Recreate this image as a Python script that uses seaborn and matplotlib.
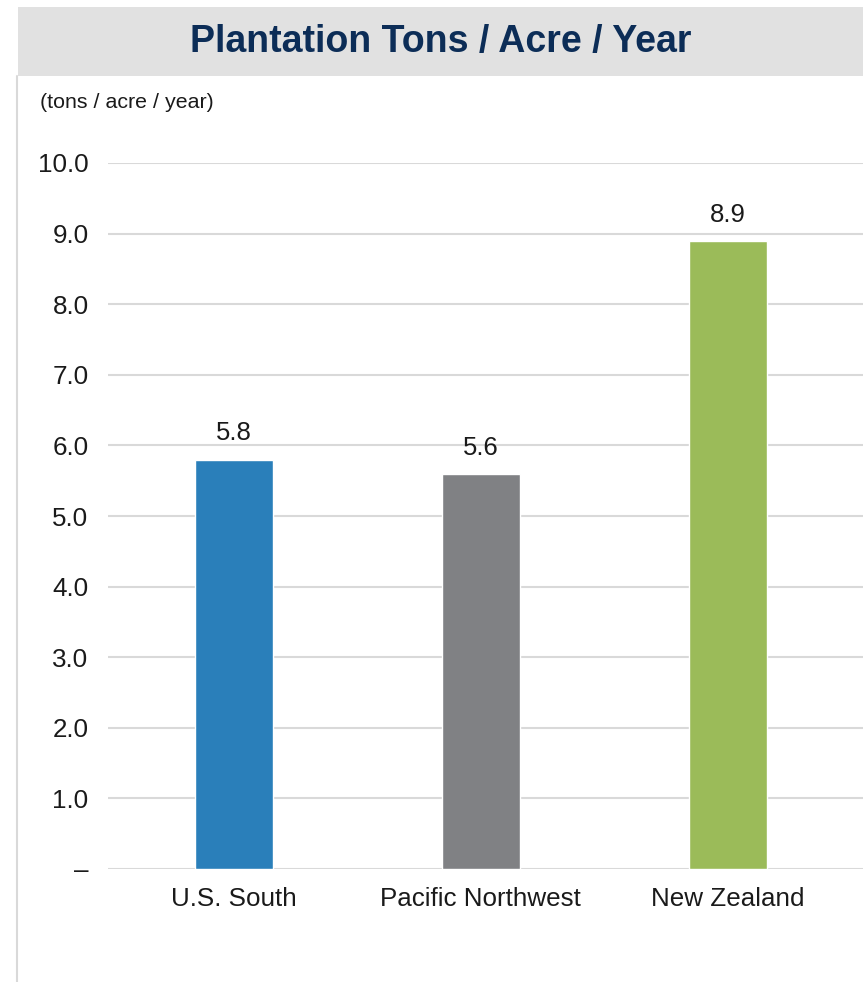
import matplotlib
matplotlib.use("Agg")
import matplotlib.pyplot as plt
import pandas as pd
import seaborn as sns
from matplotlib.lines import Line2D
from matplotlib.patches import Rectangle

REGIONS = ["U.S. South", "Pacific Northwest", "New Zealand"]
TONS = [5.8, 5.6, 8.9]
COLORS = ["#2A7FBA", "#808184", "#9BBB59"]
Y_TICKS = [0, 1, 2, 3, 4, 5, 6, 7, 8, 9, 10]
Y_LABELS = ["\u2013", "1.0", "2.0", "3.0", "4.0", "5.0", "6.0", "7.0", "8.0", "9.0", "10.0"]

W, H = 863, 982

sns.set_theme(style="white")
plt.rcParams["font.family"] = ["Liberation Sans", "DejaVu Sans"]

fig = plt.figure(figsize=(W / 100, H / 100), dpi=100)

# grey title banner + left frame line
fig.add_artist(Rectangle((18 / W, 1 - 76 / H), 1, 69 / H, transform=fig.transFigure,
                         facecolor="#E1E1E1", edgecolor="none"))
fig.add_artist(Line2D([17 / W, 17 / W], [0, 1 - 76 / H], transform=fig.transFigure,
                      color="#D9D9D9", linewidth=1.5))
fig.text(441 / W, 1 - 42 / H, "Plantation Tons / Acre / Year", ha="center", va="center",
         fontsize=27, fontweight="bold", color="#0C2D57")
fig.text(40 / W, 1 - 103 / H, "(tons / acre / year)", ha="left", va="center",
         fontsize=15.4, color="#1A1A1A")

ax = fig.add_axes([108 / W, 1 - 869 / H, (W - 108) / W, (869 - 163) / H])
df = pd.DataFrame({"region": REGIONS, "tons": TONS})
sns.barplot(data=df, x="region", y="tons", hue="region", palette=COLORS,
            dodge=False, legend=False, width=0.316, saturation=1, ax=ax)

for i, v in enumerate(TONS):
    ax.text(i, v + 0.2, f"{v:.1f}", ha="center", va="bottom", fontsize=18.5, color="#1A1A1A")

ax.set_ylim(0, 10)
ax.set_xlim(-0.51, 2.547)
ax.set_yticks(Y_TICKS)
ax.set_yticklabels(Y_LABELS)
ax.yaxis.grid(True, color="#D9D9D9", linewidth=1.5)
ax.set_axisbelow(True)
ax.tick_params(axis="y", length=0, pad=14, labelsize=18.7, labelcolor="#1A1A1A")
ax.tick_params(axis="x", length=0, pad=13, labelsize=18.7, labelcolor="#1A1A1A")
ax.set_xlabel("")
ax.set_ylabel("")
for s in ax.spines.values():
    s.set_visible(False)

fig.savefig("out.png", dpi=100)
